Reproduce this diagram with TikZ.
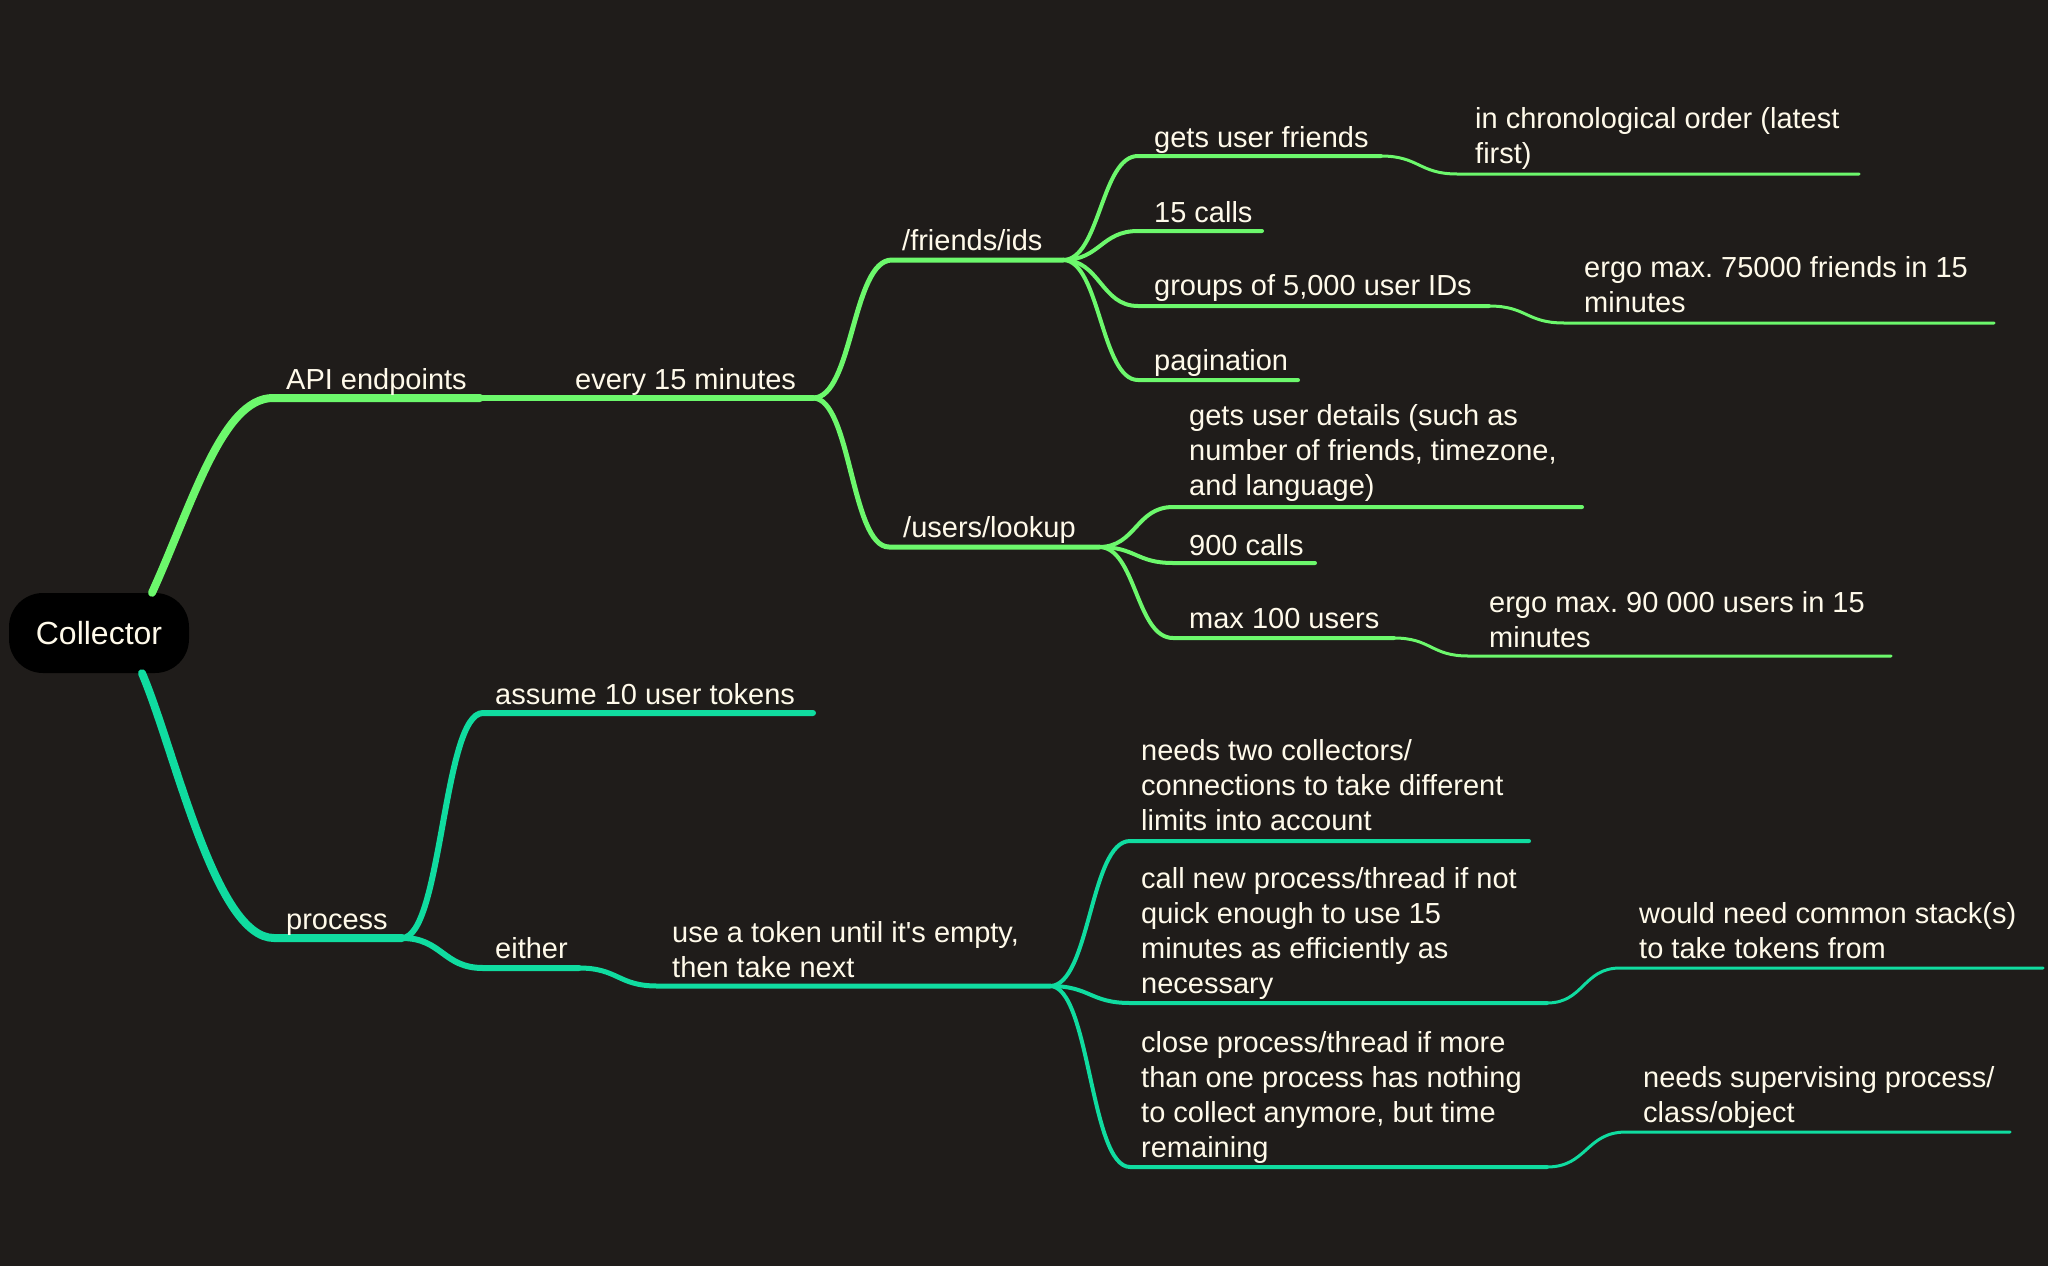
\documentclass[tikz,border=0pt]{standalone}
\usepackage{fontspec}
\setmainfont{Liberation Sans}
\frenchspacing
\definecolor{bg}{HTML}{1F1C1A}
\definecolor{gr}{HTML}{6CF86C}
\definecolor{tl}{HTML}{10DCA0}
\definecolor{tx}{HTML}{FFFAEA}
\newcommand{\mlines}[1]{\begin{tabular}[t]{@{}l@{}}#1\end{tabular}}
\begin{document}
\begin{tikzpicture}[x=1pt,y=-1pt,line cap=round,
  lbl/.style={anchor=base west,inner sep=0pt,text=tx,font=\fontsize{29}{35}\selectfont},
  w1/.style={line width=8pt},
  w2/.style={line width=6pt},
  w3/.style={line width=5pt},
  w4/.style={line width=4pt},
  w5/.style={line width=3pt}]
\fill[bg] (0,0) rectangle (2048,1266);
\useasboundingbox (0,0) rectangle (2048,1266);

\node[fill=black,rounded corners=34pt,minimum width=180pt,minimum height=80pt,inner sep=0pt,
      text=tx,font=\fontsize{32}{38}\selectfont] (collector) at (99,633) {Collector};

% ---------- top branch ----------
\coordinate (api0) at (273,398);
\coordinate (api1) at (480,398);
\coordinate (ev1) at (813,398);
\draw[gr,w1] ([xshift=53pt]collector.north) .. controls (192,505) and (222,398) .. (api0) -- (api1);
\draw[gr,w2] (api1) -- (ev1);

\coordinate (fr0) at (892,260);  \coordinate (fr1) at (1063,260);
\coordinate (us0) at (889,547);  \coordinate (us1) at (1099,547);
\draw[gr,w3] (ev1) .. controls +(40,0) and +(-40,0) .. (fr0) -- (fr1);
\draw[gr,w3] (ev1) .. controls +(38,0) and +(-38,0) .. (us0) -- (us1);

\coordinate (gf0) at (1138,156); \coordinate (gf1) at (1381,156);
\coordinate (ch0) at (1457,174); \coordinate (ch1) at (1859,174);
\coordinate (fc0) at (1138,231); \coordinate (fc1) at (1262,231);
\coordinate (gp0) at (1138,306); \coordinate (gp1) at (1489,306);
\coordinate (e70) at (1564,323); \coordinate (e71) at (1994,323);
\coordinate (pg0) at (1138,380); \coordinate (pg1) at (1298,380);
\draw[gr,w4] (fr1) .. controls +(37,0) and +(-37,0) .. (gf0) -- (gf1);
\draw[gr,w5] (gf1) .. controls +(38,0) and +(-38,0) .. (ch0) -- (ch1);
\draw[gr,w4] (fr1) .. controls +(37,0) and +(-37,0) .. (fc0) -- (fc1);
\draw[gr,w4] (fr1) .. controls +(37,0) and +(-37,0) .. (gp0) -- (gp1);
\draw[gr,w5] (gp1) .. controls +(38,0) and +(-38,0) .. (e70) -- (e71);
\draw[gr,w4] (fr1) .. controls +(37,0) and +(-37,0) .. (pg0) -- (pg1);

\coordinate (ud0) at (1173,507); \coordinate (ud1) at (1582,507);
\coordinate (nc0) at (1173,563); \coordinate (nc1) at (1315,563);
\coordinate (mx0) at (1173,638); \coordinate (mx1) at (1394,638);
\coordinate (e90) at (1468,656); \coordinate (e91) at (1891,656);
\draw[gr,w4] (us1) .. controls +(37,0) and +(-37,0) .. (ud0) -- (ud1);
\draw[gr,w4] (us1) .. controls +(37,0) and +(-37,0) .. (nc0) -- (nc1);
\draw[gr,w4] (us1) .. controls +(37,0) and +(-37,0) .. (mx0) -- (mx1);
\draw[gr,w5] (mx1) .. controls +(37,0) and +(-37,0) .. (e90) -- (e91);

% ---------- bottom branch ----------
\coordinate (pr0) at (274,938); \coordinate (pr1) at (402,938);
\draw[tl,w1] ([xshift=43pt]collector.south) .. controls (175,750) and (215,938) .. (pr0) -- (pr1);

\coordinate (as0) at (483,713); \coordinate (as1) at (813,713);
\coordinate (ei0) at (483,968); \coordinate (ei1) at (579,968);
\coordinate (ut0) at (657,986); \coordinate (ut1) at (1050,986);
\draw[tl,w2] (pr1) .. controls +(40,0) and +(-40,0) .. (as0) -- (as1);
\draw[tl,w2] (pr1) .. controls +(40,0) and +(-40,0) .. (ei0) -- (ei1);
\draw[tl,w3] (ei1) .. controls +(39,0) and +(-39,0) .. (ut0) -- (ut1);

\coordinate (nt0) at (1130,841);  \coordinate (nt1) at (1529,841);
\coordinate (cn0) at (1130,1003); \coordinate (cn1) at (1547,1003);
\coordinate (wn0) at (1620,968);  \coordinate (wn1) at (2043,968);
\coordinate (cl0) at (1130,1167); \coordinate (cl1) at (1547,1167);
\coordinate (ns0) at (1626,1132); \coordinate (ns1) at (2010,1132);
\draw[tl,w4] (ut1) .. controls +(40,0) and +(-40,0) .. (nt0) -- (nt1);
\draw[tl,w4] (ut1) .. controls +(40,0) and +(-40,0) .. (cn0) -- (cn1);
\draw[tl,w5] (cn1) .. controls +(37,0) and +(-37,0) .. (wn0) -- (wn1);
\draw[tl,w4] (ut1) .. controls +(40,0) and +(-40,0) .. (cl0) -- (cl1);
\draw[tl,w5] (cl1) .. controls +(40,0) and +(-40,0) .. (ns0) -- (ns1);

% ---------- labels ----------
\node[lbl] (t-api) at (286,389) {API endpoints};
\node[lbl] (t-ev) at (575,389) {every 15 minutes};
\node[lbl] (t-fr) at (902,250) {/friends/ids};
\node[lbl] (t-us) at (903,537) {/users/lookup};
\node[lbl] (t-gf) at (1154,147) {gets user friends};
\node[lbl] (t-ch) at (1475,128) {\mlines{in chronological order (latest\\first)}};
\node[lbl] (t-fc) at (1154,222) {15 calls};
\node[lbl] (t-gp) at (1154,295) {groups of 5,000 user IDs};
\node[lbl] (t-e7) at (1584,277) {\mlines{ergo max. 75000 friends in 15\\minutes}};
\node[lbl] (t-pg) at (1154,370) {pagination};
\node[lbl] (t-ud) at (1189,425) {\mlines{gets user details (such as\\number of friends, timezone,\\and language)}};
\node[lbl] (t-nc) at (1189,555) {900 calls};
\node[lbl] (t-mx) at (1189,628) {max 100 users};
\node[lbl] (t-e9) at (1489,612) {\mlines{ergo max. 90 000 users in 15\\minutes}};

\node[lbl] (t-pr) at (286,929) {process};
\node[lbl] (t-as) at (495,704) {assume 10 user tokens};
\node[lbl] (t-ei) at (495,958) {either};
\node[lbl] (t-ut) at (672,942) {\mlines{use a token until it\textquotesingle s empty,\\then take next}};
\node[lbl] (t-nt) at (1141,760) {\mlines{needs two collectors/\\connections to take different\\limits into account}};
\node[lbl] (t-cn) at (1141,888) {\mlines{call new process/thread if not\\quick enough to use 15\\minutes as efficiently as\\necessary}};
\node[lbl] (t-wn) at (1639,923) {\mlines{would need common stack(s)\\to take tokens from}};
\node[lbl] (t-cl) at (1141,1052) {\mlines{close process/thread if more\\than one process has nothing\\to collect anymore, but time\\remaining}};
\node[lbl] (t-ns) at (1643,1087) {\mlines{needs supervising process/\\class/object}};
\end{tikzpicture}
\end{document}
